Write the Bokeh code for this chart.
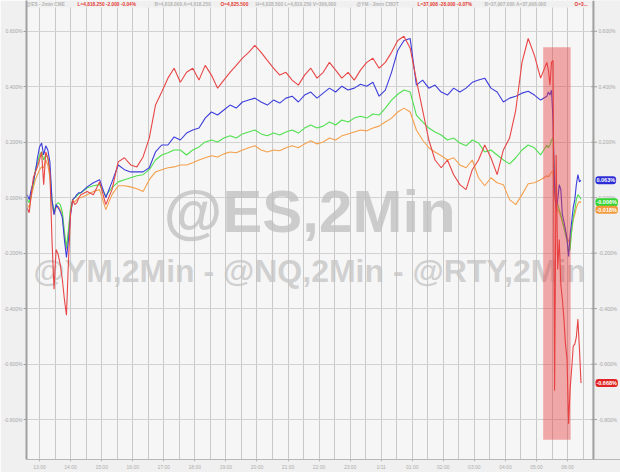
from bokeh.plotting import figure
from bokeh.models import FixedTicker, PrintfTickFormatter, Label, BoxAnnotation, Span
from bokeh.core.properties import value
from bokeh.embed import file_html
from bokeh.resources import INLINE

# sample times: minutes after 12:00 on 1/10 (2-min bars, sampled)
minutes = list(range(36, 140, 4)) + list(range(140, 1041, 12)) + list(range(1043, 1107, 3))

# % change series
rty_pct = [-0.036, -0.054, 0.011, 0.072, 0.093, 0.111, 0.136, 0.165, 0.047, 0.165, 0.144, 0.093, -0.151,
           -0.330, -0.187, -0.205, -0.241, -0.294, -0.366, -0.424, -0.223, -0.054, -0.007, -0.025, -0.018, 0.000,
           0.011, 0.022, 0.011, 0.057, -0.025, 0.029, 0.129, 0.144, 0.118, 0.111,
           0.147, 0.215, 0.334, 0.381, 0.431, 0.467, 0.416, 0.452, 0.467, 0.424,
           0.477, 0.442, 0.395, 0.424, 0.452, 0.477, 0.503, 0.524, 0.549, 0.524,
           0.495, 0.467, 0.442, 0.452, 0.424, 0.406, 0.442, 0.467, 0.431, 0.452,
           0.488, 0.460, 0.431, 0.452, 0.424, 0.460, 0.488, 0.503, 0.467, 0.488,
           0.524, 0.567, 0.582, 0.539, 0.424, 0.316, 0.208, 0.136, 0.108, 0.136,
           0.083, 0.047, 0.029, 0.101, 0.136, 0.190, 0.144, 0.083, 0.172, 0.215,
           0.316, 0.488, 0.574, 0.513, 0.431, 0.488,
           0.460, 0.406, 0.488, 0.495, -0.696, 0.154, -0.259, -0.151, -0.312, -0.366, -0.438,
           -0.528, -0.582, -0.815, -0.689, -0.617, -0.535, -0.528, -0.503, -0.438, -0.546, -0.668]

nq_pct = [0.011, -0.007, 0.029, 0.057, 0.093, 0.144, 0.183, 0.197, 0.154, 0.187, 0.172, 0.129, -0.007,
          -0.061, -0.025, -0.036, -0.050, -0.072, -0.151, -0.215, -0.151, -0.061, -0.007, 0.000, 0.011, 0.018,
          0.018, 0.039, 0.054, 0.065, 0.000, 0.057, 0.118, 0.101, 0.093, 0.093,
          0.093, 0.108, 0.165, 0.190, 0.190, 0.219, 0.208, 0.233, 0.244, 0.251,
          0.287, 0.309, 0.298, 0.316, 0.334, 0.323, 0.345, 0.352, 0.359, 0.345,
          0.334, 0.352, 0.341, 0.359, 0.366, 0.345, 0.370, 0.381, 0.359, 0.377,
          0.395, 0.381, 0.402, 0.388, 0.395, 0.409, 0.402, 0.416, 0.366, 0.388,
          0.452, 0.531, 0.567, 0.574, 0.406, 0.424, 0.395, 0.406, 0.381, 0.370,
          0.395, 0.381, 0.395, 0.416, 0.424, 0.431, 0.395, 0.381, 0.345, 0.359,
          0.366, 0.377, 0.384, 0.370, 0.352, 0.366,
          0.381, 0.370, 0.388, 0.280, 0.029, -0.043, -0.007, 0.047, 0.029, -0.061, -0.086,
          -0.115, -0.151, -0.212, -0.133, -0.086, -0.036, -0.007, 0.047, 0.083, 0.057, 0.063]

es_pct = [-0.007, -0.018, 0.022, 0.047, 0.101, 0.126, 0.154, 0.165, 0.136, 0.154, 0.144, 0.101, -0.007,
          -0.050, -0.025, -0.018, -0.025, -0.050, -0.122, -0.180, -0.115, -0.036, -0.007, 0.000, 0.007, 0.014,
          0.018, 0.036, 0.043, 0.047, 0.007, 0.036, 0.057, 0.065, 0.072, 0.079,
          0.083, 0.101, 0.136, 0.154, 0.162, 0.172, 0.172, 0.154, 0.172, 0.183,
          0.201, 0.208, 0.201, 0.215, 0.223, 0.215, 0.230, 0.237, 0.244, 0.230,
          0.223, 0.233, 0.226, 0.237, 0.244, 0.233, 0.251, 0.262, 0.251, 0.258,
          0.273, 0.262, 0.280, 0.273, 0.287, 0.294, 0.287, 0.302, 0.298, 0.323,
          0.352, 0.373, 0.388, 0.381, 0.298, 0.273, 0.251, 0.237, 0.226, 0.208,
          0.215, 0.197, 0.187, 0.208, 0.197, 0.165, 0.172, 0.154, 0.136, 0.122,
          0.144, 0.172, 0.190, 0.180, 0.154, 0.190,
          0.180, 0.190, 0.208, 0.215, 0.065, -0.007, -0.025, -0.043, -0.061, -0.086, -0.108,
          -0.133, -0.151, -0.194, -0.187, -0.115, -0.072, -0.043, -0.007, 0.011, 0.004, -0.006]

ym_pct = [-0.025, -0.036, 0.004, 0.036, 0.065, 0.083, 0.101, 0.111, 0.108, 0.136, 0.118, 0.072, -0.025,
          -0.061, -0.036, -0.032, -0.043, -0.061, -0.133, -0.187, -0.122, -0.043, -0.018, -0.014, -0.007, 0.000,
          0.000, 0.011, 0.022, 0.029, -0.043, 0.011, 0.043, 0.043, 0.039, 0.032,
          0.022, 0.065, 0.093, 0.101, 0.108, 0.111, 0.118, 0.118, 0.126, 0.136,
          0.144, 0.151, 0.147, 0.158, 0.165, 0.162, 0.172, 0.180, 0.187, 0.172,
          0.165, 0.172, 0.169, 0.180, 0.187, 0.180, 0.194, 0.205, 0.194, 0.201,
          0.215, 0.208, 0.223, 0.230, 0.237, 0.244, 0.241, 0.251, 0.258, 0.273,
          0.287, 0.309, 0.323, 0.309, 0.244, 0.208, 0.180, 0.165, 0.151, 0.136,
          0.144, 0.118, 0.108, 0.136, 0.072, 0.043, 0.072, 0.054, 0.047, -0.007,
          -0.025, 0.011, 0.050, 0.054, 0.065, 0.079,
          0.075, 0.083, 0.093, 0.093, 0.011, -0.036, -0.043, -0.054, -0.068, -0.086, -0.108,
          -0.122, -0.140, -0.158, -0.162, -0.122, -0.079, -0.061, -0.036, -0.022, -0.014, -0.018]

y_ticks = [-0.8, -0.6, -0.4, -0.2, 0.0, 0.2, 0.4, 0.6]
hour_ticks = [60, 120, 180, 240, 300, 360, 420, 480, 540, 600, 660, 720, 780, 840, 900, 960, 1020, 1080]
hour_labels = ["13:00", "14:00", "15:00", "16:00", "17:00", "18:00", "19:00", "20:00", "21:00",
               "22:00", "23:00", "1/11", "01:00", "02:00", "03:00", "04:00", "05:00", "06:00"]
grid_ticks = list(range(60, 1111, 30))

# highlighted window (CPI release)
hl_start, hl_end, hl_top, hl_bottom = 1033, 1086, 0.542, -0.873

header = [
    (0, "@ES - 2min CME", "#b4b4b4"),
    (51, "L=4,818.250  -2.000  -0.04%", "#e53935"),
    (128, "B=4,818.000  A=4,818.250", "#b4b4b4"),
    (194, "O=4,825.500", "#e53935"),
    (229, "H=4,828.500  L=4,810.250  V=306,000", "#b4b4b4"),
    (330, "@YM - 2min  CBOT", "#b4b4b4"),
    (391, "L=37,908  -28.000  -0.07%", "#e53935"),
    (458, "B=37,907.000  A=37,908.000", "#b4b4b4"),
    (548, "O=3...", "#e53935"),
]

X0, XE, X2 = 34.8, 1130, 1182.3      # frame start, plot-area end, frame end (tag column)
Y0, YH, Y2 = -0.944, 0.686, 0.711    # frame bottom, header band bottom, frame top
FONT = "Liberation Sans"
BORDER = "#f0f0f0"

p = figure(width=620, height=472, x_range=(X0, X2), y_range=(Y0, Y2),
           output_backend="svg", toolbar_location=None,
           min_border_left=0, min_border_right=0, min_border_top=0, min_border_bottom=0,
           background_fill_color="#f6f6f6", border_fill_color=BORDER,
           outline_line_color=None)

ya = p.yaxis[0]
ya.ticker = FixedTicker(ticks=y_ticks)
ya.formatter = PrintfTickFormatter(format="%.3f%%")
ya.major_label_text_font = FONT
ya.major_label_text_font_size = "5px"
ya.major_label_text_color = "#a6a6a6"
ya.axis_line_color = "#a0a0a0"
ya.axis_line_width = 2
ya.major_tick_in = 0
ya.major_tick_out = 3
ya.major_tick_line_color = "#a0a0a0"
ya.minor_tick_in = 0
ya.minor_tick_out = 0
ya.major_label_standoff = 1

xa = p.xaxis[0]
xa.ticker = FixedTicker(ticks=hour_ticks)
xa.major_label_overrides = {t: lab for t, lab in zip(hour_ticks, hour_labels)}
xa.major_label_text_font = FONT
xa.major_label_text_font_size = "5px"
xa.major_label_text_color = "#adadad"
xa.axis_line_color = "#b8b8b8"
xa.major_tick_in = 0
xa.major_tick_out = 2
xa.major_tick_line_color = "#b8b8b8"
xa.minor_tick_in = 0
xa.minor_tick_out = 0
xa.major_label_standoff = 2

p.xgrid.ticker = FixedTicker(ticks=grid_ticks)
p.xgrid.grid_line_color = "#c9c9c9"
p.ygrid.ticker = FixedTicker(ticks=y_ticks)
p.ygrid.grid_line_color = "#d2d2d2"

# watermark
p.add_layout(Label(x=582, y=-0.050, text="@ES,2Min", text_align="center", text_baseline="middle",
                   text_font=FONT, text_font_style="bold", text_font_size="60px",
                   text_color="#bdbdbd", text_alpha=0.75, level="underlay"))
p.add_layout(Label(x=582, y=-0.266, text="@YM,2Min - @NQ,2Min - @RTY,2Min", text_align="center",
                   text_baseline="middle", text_font=FONT, text_font_style="bold", text_font_size="32px",
                   text_color="#c4c4c4", text_alpha=0.75, level="underlay"))

# label column on the right and header band at the top
p.add_layout(BoxAnnotation(left=XE, fill_color=BORDER, fill_alpha=1, line_color=None, level="underlay"))
p.add_layout(BoxAnnotation(bottom=YH, fill_color=BORDER, fill_alpha=1, line_color=None, level="underlay"))

p.line(minutes, ym_pct, line_color="#f4a04c", line_width=1.1)
p.line(minutes, es_pct, line_color="#4fe04f", line_width=1.1)
p.line(minutes, nq_pct, line_color="#3d3ddc", line_width=1.1)
p.line(minutes, rty_pct, line_color="#e84646", line_width=1.1)

p.add_layout(BoxAnnotation(left=hl_start, right=hl_end, top=hl_top, bottom=hl_bottom,
                           fill_color="#e83a3a", fill_alpha=0.42, line_color=None))

# right-hand price scale
p.add_layout(Span(location=XE, dimension="height", line_color="#a0a0a0", line_width=2))
p.segment(x0=[XE - 4] * len(y_ticks), y0=y_ticks, x1=[XE + 7] * len(y_ticks), y1=y_ticks,
          line_color="#a0a0a0", line_width=1)
p.text(x=[XE] * len(y_ticks), y=y_ticks, text=[f"{v:.3f}%" for v in y_ticks], x_offset=5,
       text_baseline="middle", text_font=value(FONT), text_font_size="5px", text_color="#a6a6a6")

# header line
for off, txt, col in header:
    p.add_layout(Label(x=X0, y=Y2, x_offset=off, y_offset=-4, text=txt, text_baseline="middle",
                       text_font=FONT, text_font_size="4.8px", text_font_style="bold", text_color=col))

# last-value tags
tags = [(nq_pct[-1], "#2d2dd8", 0), (es_pct[-1], "#35d535", -3), (ym_pct[-1], "#f29a3c", -7),
        (rty_pct[-1], "#e02424", 0)]
for val, col, dy in tags:
    p.add_layout(Label(x=XE, y=val, x_offset=2, y_offset=dy, text=f"{val:.3f}%", text_baseline="middle",
                       text_font=FONT, text_font_size="5.5px", text_font_style="bold", text_color="white",
                       background_fill_color=col, border_radius=3, padding=1))

open("out.html", "w").write(file_html(p, INLINE))
